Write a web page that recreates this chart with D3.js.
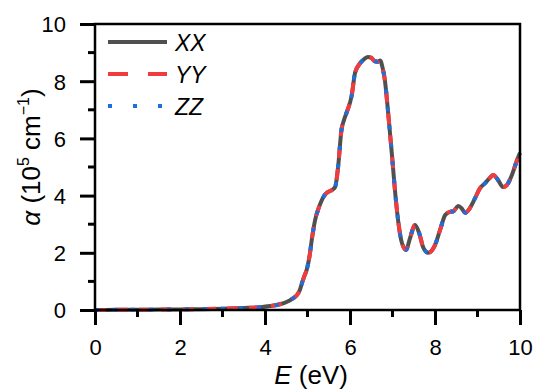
<!DOCTYPE html>
<html>
<head>
<meta charset="utf-8">
<script src="https://cdn.jsdelivr.net/npm/d3@7"></script>
<style>
  body { margin: 0; background: #fff; }
  svg { font-family: "Liberation Sans", Arial, sans-serif; }
</style>
</head>
<body>
<div id="grafico"></div>
<script>
const ANCHO = 539, ALTO = 391;
const margen = {izq: 95, der: 19, arr: 24, aba: 81};

// energia (eV) y absorcion (10^5 cm^-1)
const energia = [0, 0.5, 1.0, 1.5, 2.0, 2.5, 3.0, 3.5, 3.9, 4.12, 4.35, 4.52, 4.65, 4.75, 4.82, 4.87, 4.93, 4.98,
  5.05, 5.1, 5.18, 5.26, 5.34, 5.42, 5.49, 5.58, 5.65, 5.72, 5.8, 5.86, 5.92, 6.04, 6.12, 6.24, 6.34, 6.42,
  6.5, 6.58, 6.64, 6.71, 6.77, 6.82, 6.87, 6.94, 7.0, 7.06, 7.14, 7.22, 7.32, 7.41, 7.53, 7.63, 7.72, 7.84,
  8.0, 8.12, 8.24, 8.35, 8.43, 8.55, 8.63, 8.71, 8.82, 8.94, 9.06, 9.18, 9.28, 9.37, 9.48, 9.6, 9.69, 9.81, 9.93, 10];
const alfaXX = [0, 0.005, 0.01, 0.015, 0.02, 0.03, 0.045, 0.07, 0.1, 0.14, 0.2, 0.29, 0.4, 0.52, 0.7, 0.94, 1.2, 1.4,
  1.9, 2.45, 3.15, 3.55, 3.85, 4.05, 4.13, 4.2, 4.3, 5.0, 6.3, 6.65, 6.9, 7.5, 8.3, 8.63, 8.78, 8.85,
  8.82, 8.7, 8.68, 8.72, 8.45, 8.04, 7.34, 6.2, 5.2, 4.15, 3.04, 2.35, 2.1, 2.5, 2.97, 2.68, 2.2, 2.0,
  2.27, 2.8, 3.32, 3.43, 3.45, 3.64, 3.55, 3.4, 3.56, 3.9, 4.26, 4.44, 4.6, 4.72, 4.55, 4.3, 4.37, 4.72, 5.24, 5.5];
// YY y ZZ coinciden con XX
const alfaYY = alfaXX.slice();
const alfaZZ = alfaXX.slice();
const ticksX = [0, 2, 4, 6, 8, 10];
const ticksY = [0, 2, 4, 6, 8, 10];

const series = [
  {nombre: "XX", valores: alfaXX, color: "#505050", dash: null, dashLeyenda: null, ancho: 4},
  {nombre: "YY", valores: alfaYY, color: "#f23b3f", dash: "11,11", dashLeyenda: "20,20", ancho: 4},
  {nombre: "ZZ", valores: alfaZZ, color: "#1b6fe0", dash: "4,14", dashLeyenda: "4,21", ancho: 4},
];

const $svg = d3.select("#grafico").append("svg")
  .attr("width", ANCHO).attr("height", ALTO);

const x = d3.scaleLinear().domain([0, 10]).range([margen.izq, ANCHO - margen.der]);
const y = d3.scaleLinear().domain([0, 10]).range([ALTO - margen.aba, margen.arr]);

const linea = d3.line().curve(d3.curveMonotoneX);

for (const s of series) {
  $svg.append("path")
    .attr("d", linea(energia.map((e, i) => [x(e), y(s.valores[i])])))
    .attr("fill", "none")
    .attr("stroke", s.color)
    .attr("stroke-width", s.ancho)
    .attr("stroke-dasharray", s.dash)
    .attr("stroke-linejoin", "round");
}

// marco
$svg.append("rect")
  .attr("x", x(0)).attr("y", y(10))
  .attr("width", x(10) - x(0)).attr("height", y(0) - y(10))
  .attr("fill", "none").attr("stroke", "#000").attr("stroke-width", 2.5);

// ejes
const ejeX = $svg.append("g").attr("transform", `translate(0,${y(0)})`)
  .call(d3.axisBottom(x).tickValues(ticksX).tickSize(15).tickPadding(14).tickFormat(d3.format("d")));
const ejeY = $svg.append("g").attr("transform", `translate(${x(0)},0)`)
  .call(d3.axisLeft(y).tickValues(ticksY).tickSize(15).tickPadding(14).tickFormat(d3.format("d")));
for (const eje of [ejeX, ejeY]) {
  eje.select(".domain").remove();
  eje.selectAll(".tick line").attr("stroke", "#000").attr("stroke-width", 3);
  eje.selectAll(".tick text").attr("fill", "#000").style("font-size", "22px")
    .style("font-family", "'Liberation Sans', Arial, sans-serif");
}
ejeX.selectAll(".tick text").attr("dy", "0.71em");
ejeY.selectAll(".tick text").attr("dy", "0.36em");

// ticks menores
const menores = [1, 3, 5, 7, 9];
$svg.append("g").selectAll("line").data(menores).join("line")
  .attr("x1", d => x(d)).attr("x2", d => x(d))
  .attr("y1", y(0)).attr("y2", y(0) + 7)
  .attr("stroke", "#000").attr("stroke-width", 3);
$svg.append("g").selectAll("line").data(menores).join("line")
  .attr("y1", d => y(d)).attr("y2", d => y(d))
  .attr("x1", x(0)).attr("x2", x(0) - 7)
  .attr("stroke", "#000").attr("stroke-width", 3);

// leyenda
const leyenda = $svg.append("g");
series.forEach((s, i) => {
  const yl = 42 + i * 32;
  leyenda.append("line")
    .attr("x1", 108).attr("x2", 167).attr("y1", yl).attr("y2", yl)
    .attr("stroke", s.color).attr("stroke-width", s.ancho)
    .attr("stroke-dasharray", s.dashLeyenda);
  leyenda.append("text")
    .attr("x", 175).attr("y", yl + 1).attr("dy", "0.36em")
    .style("font-size", "23px").style("font-style", "italic")
    .text(s.nombre);
});

// titulos de ejes
$svg.append("text")
  .attr("x", 311).attr("y", 384)
  .attr("text-anchor", "middle").style("font-size", "26px")
  .html('<tspan font-style="italic">E</tspan> (eV)');

$svg.append("text")
  .attr("transform", `translate(40,157) rotate(-90)`)
  .attr("text-anchor", "middle").style("font-size", "26px")
  .html('<tspan font-style="italic">α</tspan> (10<tspan dy="-11" font-size="16px">5</tspan><tspan dy="11"> cm</tspan><tspan dy="-11" font-size="16px">−1</tspan><tspan dy="11">)</tspan>');
</script>
</body>
</html>
